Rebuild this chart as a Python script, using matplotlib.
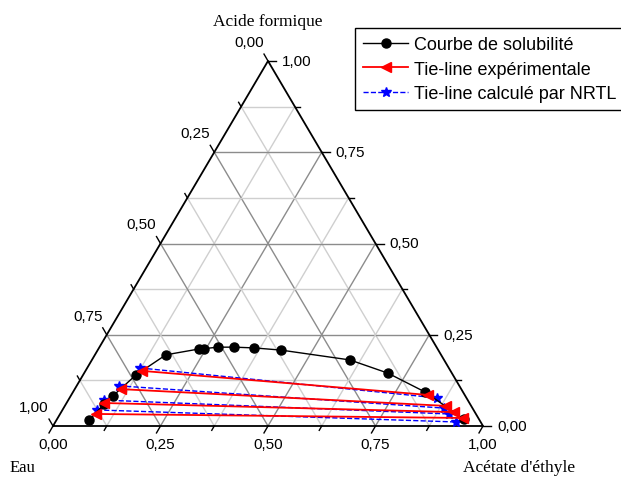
import numpy as np
import matplotlib.pyplot as plt

plt.rcParams['font.family'] = ['Liberation Sans', 'DejaVu Sans']

# compositions (mass fractions): acide formique, acetate d'ethyle (eau = reste)
sol_acide = [0.016, 0.060, 0.082, 0.140, 0.195, 0.211, 0.212, 0.216, 0.216,
             0.214, 0.208, 0.181, 0.145, 0.093, 0.019]
sol_acetate = [0.076, 0.089, 0.098, 0.123, 0.165, 0.234, 0.245, 0.276, 0.313,
               0.360, 0.426, 0.600, 0.706, 0.819, 0.946]

# experimental tie-lines: (aqueous phase, organic phase)
exp_acide_aq = [0.151, 0.101, 0.063, 0.033]
exp_acetate_aq = [0.132, 0.108, 0.087, 0.084]
exp_acide_org = [0.085, 0.055, 0.038, 0.022]
exp_acetate_org = [0.830, 0.887, 0.914, 0.942]

# NRTL tie-lines
nrtl_acide_aq = [0.159, 0.110, 0.071, 0.044]
nrtl_acetate_aq = [0.123, 0.098, 0.083, 0.080]
nrtl_acide_org = [0.077, 0.049, 0.033, 0.011]
nrtl_acetate_org = [0.855, 0.885, 0.904, 0.932]

tick_vals = [0.0, 0.25, 0.5, 0.75, 1.0]
tick_labels = ['0,00', '0,25', '0,50', '0,75', '1,00']

h = np.sqrt(3) / 2


def to_xy(acide, acetate):
    acide = np.asarray(acide)
    acetate = np.asarray(acetate)
    return acetate + acide / 2, acide * h


W, H = 621, 481
x0px, y0px = 53, 427
sx, sy = 430, 365 / h

fig = plt.figure(figsize=(W / 100, H / 100), dpi=100)
ax = fig.add_axes([0, 0, 1, 1])
ax.axis('off')
ax.set_xlim(-x0px / sx, (W - x0px) / sx)
ax.set_ylim(-(H - y0px) / sy, y0px / sy)

# grid
for k in range(1, 8):
    v = k / 8
    col = '#8c8c8c' if k % 2 == 0 else '#cfcfcf'
    # constant acide
    ax.plot([v / 2, 1 - v / 2], [v * h, v * h], color=col, lw=1, zorder=1)
    # constant acetate
    ax.plot([v, v + (1 - v) / 2], [0, (1 - v) * h], color=col, lw=1, zorder=1)
    # constant eau
    ax.plot([1 - v, (1 - v) / 2], [0, (1 - v) * h], color=col, lw=1, zorder=1)

# triangle
ax.plot([0, 1, 0.5, 0], [0, 0, h, 0], color='black', lw=1.3, zorder=2)

# ticks
for k in range(9):
    v = k / 8
    L = 8 if k % 2 == 0 else 5
    # bottom (acetate): down-left
    ax.plot([v, v - L * 0.5 / sx], [0, -L * h / sy], color='black', lw=1, zorder=2)
    # right (acide): to the right
    px, py = 1 - v / 2, v * h
    ax.plot([px, px + L / sx], [py, py], color='black', lw=1, zorder=2)
    # left (eau): up-left
    qx, qy = (1 - v) / 2, (1 - v) * h
    ax.plot([qx, qx - L * 0.5 / sx], [qy, qy + L * h / sy], color='black', lw=1, zorder=2)

for v, lab in zip(tick_vals, tick_labels):
    ax.annotate(lab, (v, 0), xytext=(0, -18), textcoords='offset pixels',
                ha='center', va='center', fontsize=11)
    ax.annotate(lab, (1 - v / 2, v * h), xytext=(14, 0), textcoords='offset pixels',
                ha='left', va='center', fontsize=11)
    ax.annotate(lab, ((1 - v) / 2, (1 - v) * h), xytext=(-19, 19),
                textcoords='offset pixels', ha='center', va='center', fontsize=11)

ax.annotate('Acide formique', (0.5, h), xytext=(0, 40), textcoords='offset pixels',
            ha='center', va='center', fontsize=12.5, family='Liberation Serif')
ax.annotate('Eau', (0, 0), xytext=(-31, -41), textcoords='offset pixels',
            ha='center', va='center', fontsize=12, family='Liberation Serif')
ax.annotate("Acétate d'éthyle", (1, 0), xytext=(36, -41), textcoords='offset pixels',
            ha='center', va='center', fontsize=12.5, family='Liberation Serif')

# data
x, y = to_xy(sol_acide, sol_acetate)
ax.plot(x, y, '-o', color='black', lw=1, ms=6.5, zorder=4,
        label='Courbe de solubilité')

xa, ya = to_xy(exp_acide_aq, exp_acetate_aq)
xo, yo = to_xy(exp_acide_org, exp_acetate_org)
for i in range(len(xa)):
    ax.plot([xa[i], xo[i]], [ya[i], yo[i]], '-<', color='red', lw=1.3, ms=7,
            zorder=5, label='Tie-line expérimentale' if i == 0 else None)

xa, ya = to_xy(nrtl_acide_aq, nrtl_acetate_aq)
xo, yo = to_xy(nrtl_acide_org, nrtl_acetate_org)
for i in range(len(xa)):
    ax.plot([xa[i], xo[i]], [ya[i], yo[i]], '--*', color='blue', lw=1, ms=7,
            zorder=3, label='Tie-line calculé par NRTL' if i == 0 else None)

leg = fig.legend(loc='upper left', bbox_to_anchor=(355 / W, 1 - 29 / H),
                 fontsize=13, frameon=True, fancybox=False, framealpha=1,
                 edgecolor='black', handlelength=2.5, handletextpad=0.3,
                 borderpad=0.45, labelspacing=0.42, borderaxespad=0)
leg.get_frame().set_linewidth(1)

fig.savefig('out.png', dpi=100)
